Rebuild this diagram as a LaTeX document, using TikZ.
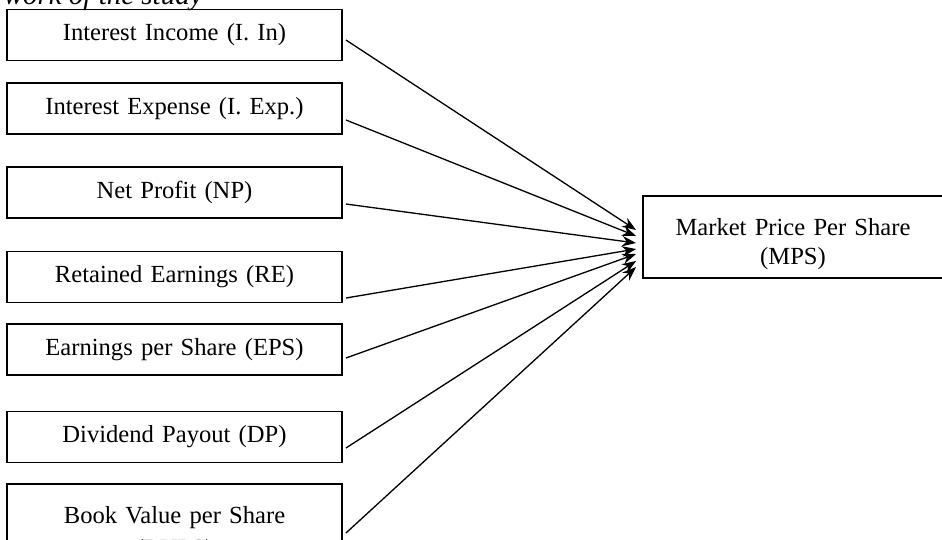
\documentclass[tikz,border=0pt]{standalone}
\usepackage{fontspec}
\setmainfont{Liberation Serif}
\usetikzlibrary{shapes,arrows.meta,calc}
\tikzstyle{block} = [rectangle, draw, line width=1.1pt, text width=6.4cm,
    text centered, minimum width=6.7cm, minimum height=1.02cm, inner sep=0pt,
    font=\fontsize{14}{16.5}\selectfont]
\tikzstyle{line} = [draw, line width=0.75pt, -{Stealth[length=8pt,width=6pt]}]

\begin{document}
\begin{tikzpicture}[x=0.02cm, y=-0.02cm]
	\useasboundingbox (0,0) rectangle (942,539);
	\clip (0,0) rectangle (942,539);

		\node [anchor=base east, inner sep=0pt, font=\fontsize{16.5}{18}\selectfont\itshape] (title) at (203,4) {work of the study};

		\node [block] (iin) at (174.5,35) {Interest Income (I. In)};
		\node [block] (iexp) at (174.5,108.5) {Interest Expense (I. Exp.)};
		\node [block] (np) at (174.5,192.5) {Net Profit (NP)};
		\node [block] (re) at (174.5,277) {Retained Earnings (RE)};
		\node [block] (eps) at (174.5,349.5) {Earnings per Share (EPS)};
		\node [block] (dp) at (174.5,437) {Dividend Payout (DP)};
		\node [block, minimum height=2cm] (bvps) at (174.5,534) {Book Value per Share\\[2.5pt](BVPS)};

		% first line padded so the text sits a little low, as in the original
		\node [block, text width=5.8cm, minimum width=6cm, minimum height=1.64cm] (mps) at (793,237) {\rule{0pt}{17.5pt}Market Price Per Share\\(MPS)};

		\path [line] ($(iin.east)+(3,5)$) -- ($(mps.west)+(-6,-7)$);
		\path [line] ($(iexp.east)+(3,11.5)$) -- ($(mps.west)+(-6,-1)$);
		\path [line] ($(np.east)+(3,11.5)$) -- ($(mps.west)+(-6,6)$);
		\path [line] ($(re.east)+(3,21)$) -- ($(mps.west)+(-6,12)$);
		\path [line] ($(eps.east)+(3,8.5)$) -- ($(mps.west)+(-6,17)$);
		\path [line] ($(dp.east)+(3,11)$) -- ($(mps.west)+(-6,24)$);
		\path [line] ($(bvps.east)+(3,-1)$) -- ($(mps.west)+(-6,30)$);
	\end{tikzpicture}
\end{document}
